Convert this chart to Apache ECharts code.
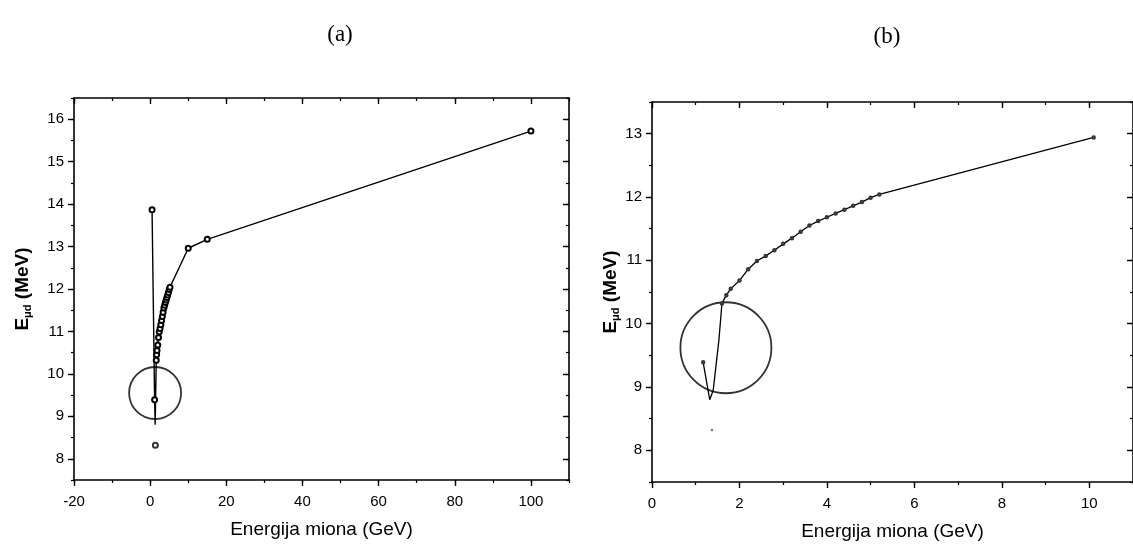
<!DOCTYPE html>
<html>
<head>
<meta charset="utf-8">
<script src="https://cdn.jsdelivr.net/npm/echarts@6/dist/echarts.min.js"></script>
<style>html,body{margin:0;padding:0;background:#fff}#c{width:1133px;height:548px}</style>
</head>
<body>
<div id="c"></div>
<script>
// ---- data (GeV, MeV) ----
var energyA = [0.5, 1.17, 1.32, 1.6, 1.7, 1.8, 2.0, 2.2, 2.4, 2.6, 2.8, 3.0, 3.2, 3.4, 3.6, 3.8, 4.0, 4.2, 4.4, 4.6, 4.8, 5.0, 5.2, 10, 15, 100];
var edA     = [13.87, 9.39, 8.8, 10.32, 10.45, 10.55, 10.68, 10.86, 10.99, 11.07, 11.16, 11.26, 11.35, 11.45, 11.55, 11.62, 11.68, 11.74, 11.8, 11.86, 11.92, 11.99, 12.04, 12.96, 13.17, 15.72];
var energyB = [1.17, 1.32, 1.4, 1.53, 1.6, 1.7, 1.8, 2.0, 2.2, 2.4, 2.6, 2.8, 3.0, 3.2, 3.4, 3.6, 3.8, 4.0, 4.2, 4.4, 4.6, 4.8, 5.0, 5.2, 10.1];
var edB     = [9.39, 8.8, 8.95, 9.74, 10.32, 10.45, 10.55, 10.68, 10.86, 10.99, 11.07, 11.16, 11.26, 11.35, 11.45, 11.55, 11.62, 11.68, 11.74, 11.8, 11.86, 11.92, 11.99, 12.04, 12.94];
var hiddenA = [1.32];          // turning points of the drawn curve, no marker
var hiddenB = [1.32, 1.4, 1.53];
var outlierA = [[1.37, 8.32]];
var outlierB = [[1.37, 8.32]];
var circleA = [[1.3, 9.55]];
var circleB = [[1.69, 9.62]];
var xTicksA = [-20, 0, 20, 40, 60, 80, 100];
var yTicksA = [8, 9, 10, 11, 12, 13, 14, 15, 16];
var xTicksB = [0, 2, 4, 6, 8, 10];
var yTicksB = [8, 9, 10, 11, 12, 13];

function pts(xs, ys, hidden) {
  return xs.map(function (x, i) {
    var d = { value: [x, ys[i]] };
    if (hidden.indexOf(x) >= 0) d.symbol = 'none';
    return d;
  });
}

var labelFont = { color: '#000', fontFamily: 'Liberation Sans', fontSize: 15 };
var nameFont = { color: '#000', fontFamily: 'Liberation Sans', fontSize: 19 };
var yName = '{e|E}{s|μd}{e| (MeV)}';
var yNameStyle = {
  color: '#000', fontFamily: 'Liberation Sans',
  rich: {
    e: { fontSize: 19, fontWeight: 'bold', fontFamily: 'Liberation Sans', color: '#000' },
    s: { fontSize: 11, fontWeight: 'bold', fontFamily: 'Liberation Sans', color: '#000', padding: [10, 0, 0, 0] }
  }
};
var AXC = { color: '#000', width: 1.6 };

function majorAx(isX, grid, min, max, ticks, pos, main, name, gap) {
  return {
    type: 'value', gridIndex: grid, min: min, max: max, position: pos,
    axisLine: { show: true, onZero: false, lineStyle: AXC },
    axisTick: { show: true, inside: !main, length: 6, customValues: ticks, lineStyle: { color: '#000', width: 1.4 } },
    splitLine: { show: false },
    axisLabel: main ? Object.assign({ margin: isX ? 14 : 10, customValues: ticks }, labelFont) : { show: false },
    name: main ? name : '', nameLocation: 'middle', nameGap: gap,
    nameTextStyle: isX ? nameFont : yNameStyle
  };
}
function minorAx(grid, min, max, step, pos, inside) {
  return {
    type: 'value', gridIndex: grid, min: min, max: max, interval: step, position: pos,
    axisLine: { show: false, onZero: false },
    axisTick: { show: true, inside: inside, length: 3, lineStyle: { color: '#000', width: 1.2 } },
    splitLine: { show: false }, axisLabel: { show: false }
  };
}

var chart = echarts.init(document.getElementById('c'), null, { renderer: 'canvas' });
chart.setOption({
  animation: false,
  backgroundColor: '#fff',
  title: [
    { text: '(a)', left: 335, top: 18, textAlign: 'center', textStyle: { fontFamily: 'Liberation Serif', fontSize: 23, fontWeight: 'normal', color: '#000' } },
    { text: '(b)', left: 882, top: 20, textAlign: 'center', textStyle: { fontFamily: 'Liberation Serif', fontSize: 23, fontWeight: 'normal', color: '#000' } }
  ],
  grid: [
    { left: 74, top: 98, right: 564, bottom: 68 },
    { left: 652, top: 102, right: -2, bottom: 66 }
  ],
  xAxis: [
    majorAx(true, 0, -20, 110, xTicksA, 'bottom', true, 'Energija miona (GeV)', 40),
    majorAx(true, 0, -20, 110, xTicksA, 'top', false, '', 0),
    majorAx(true, 1, 0, 11, xTicksB, 'bottom', true, 'Energija miona (GeV)', 40),
    majorAx(true, 1, 0, 11, xTicksB, 'top', false, '', 0),
    minorAx(0, -20, 110, 10, 'bottom', false),
    minorAx(0, -20, 110, 10, 'top', true),
    minorAx(1, 0, 11, 1, 'bottom', false),
    minorAx(1, 0, 11, 1, 'top', true)
  ],
  yAxis: [
    majorAx(false, 0, 7.5, 16.5, yTicksA, 'left', true, yName, 41),
    majorAx(false, 0, 7.5, 16.5, yTicksA, 'right', false, '', 0),
    majorAx(false, 1, 7.5, 13.5, yTicksB, 'left', true, yName, 31),
    majorAx(false, 1, 7.5, 13.5, yTicksB, 'right', false, '', 0),
    minorAx(0, 7.5, 16.5, 0.5, 'left', false),
    minorAx(0, 7.5, 16.5, 0.5, 'right', true),
    minorAx(1, 7.5, 13.5, 0.5, 'left', false),
    minorAx(1, 7.5, 13.5, 0.5, 'right', true)
  ],
  series: [
    { type: 'line', xAxisIndex: 0, yAxisIndex: 0, data: pts(energyA, edA, hiddenA), symbol: 'emptyCircle', symbolSize: 5,
      itemStyle: { color: '#000', borderWidth: 0.8 }, lineStyle: { color: '#000', width: 1.4 } },
    { type: 'scatter', xAxisIndex: 0, yAxisIndex: 0, data: outlierA, symbol: 'emptyCircle', symbolSize: 5,
      itemStyle: { color: '#000', borderWidth: 0.8 } },
    { type: 'scatter', xAxisIndex: 0, yAxisIndex: 0, data: circleA, symbol: 'circle', symbolSize: 52, silent: true,
      itemStyle: { color: 'rgba(0,0,0,0)', borderColor: '#000', borderWidth: 1.8 } },
    { type: 'line', xAxisIndex: 2, yAxisIndex: 2, data: pts(energyB, edB, hiddenB), symbol: 'emptyCircle', symbolSize: 2.5,
      itemStyle: { color: '#333', borderWidth: 0.7 }, lineStyle: { color: '#000', width: 1.3 } },
    { type: 'scatter', xAxisIndex: 2, yAxisIndex: 2, data: outlierB, symbol: 'circle', symbolSize: 2.5,
      itemStyle: { color: '#555' } },
    { type: 'scatter', xAxisIndex: 2, yAxisIndex: 2, data: circleB, symbol: 'circle', symbolSize: 91, silent: true,
      itemStyle: { color: 'rgba(0,0,0,0)', borderColor: '#000', borderWidth: 1.8 } }
  ]
});
</script>
</body>
</html>
